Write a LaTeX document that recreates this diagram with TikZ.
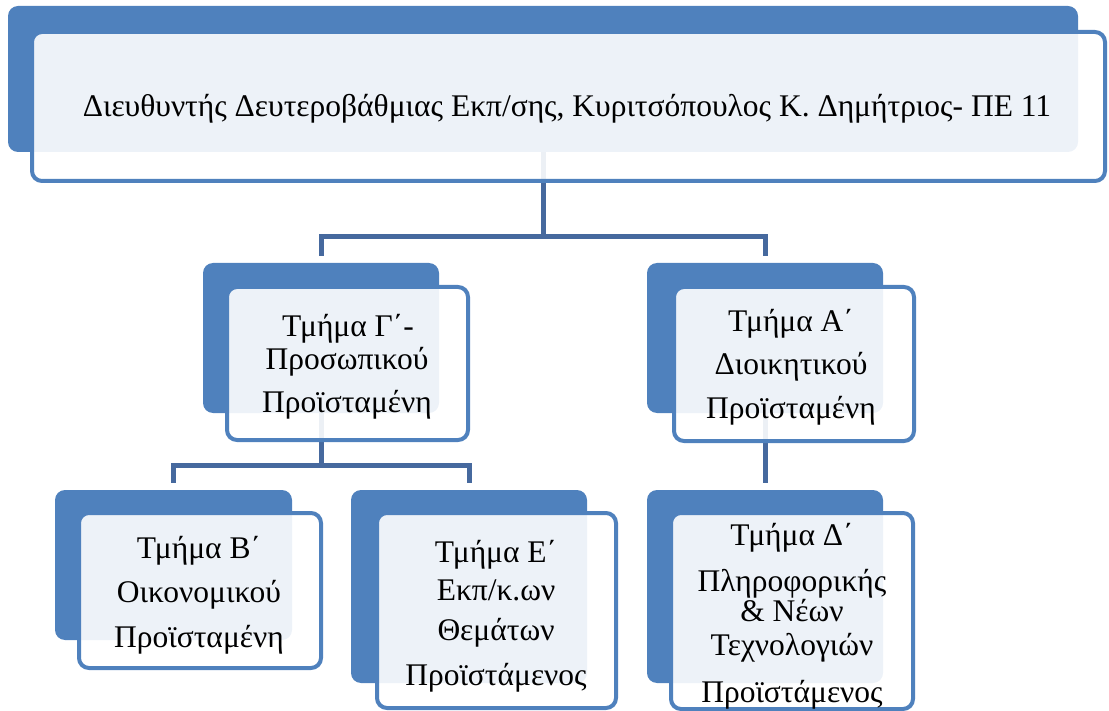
\documentclass[tikz,border=0pt]{standalone}
\usepackage{fontspec}
\setmainfont{Liberation Serif}
\usetikzlibrary{calc}
\pgfdeclarelayer{bg}
\pgfsetlayers{bg,main}
\definecolor{boxblue}{HTML}{4F81BD}
\definecolor{linkblue}{HTML}{46699E}
\tikzset{
  backbox/.style={fill=boxblue, draw=none, rounded corners=10pt, inner sep=0pt, outer sep=0pt},
  frontbox/.style={fill=white, fill opacity=0.9, draw=boxblue, draw opacity=1, line width=4pt, rounded corners=10pt, inner sep=0pt, outer sep=0pt},
  lbl/.style={anchor=base, inner sep=0pt, font=\fontsize{31.5}{34}\selectfont, text=black},
  conn/.style={draw=linkblue, line width=5pt}
}
\begin{document}
\begin{tikzpicture}[x=1pt,y=-1pt]
\useasboundingbox (0,0) rectangle (1109,711);
% top
\node[backbox, minimum width=1070pt, minimum height=146pt] (tB) at (543,79) {};
\node[frontbox, minimum width=1073pt, minimum height=149pt] (tF) at (568.5,106.5) {};
\node[lbl] (tT) at (567,117) {Διευθυντής Δευτεροβάθμιας Εκπ/σης, Κυριτσόπουλος Κ. Δημήτριος- ΠΕ 11};
% Gamma
\node[backbox, minimum width=236pt, minimum height=150pt] (gB) at (321,338) {};
\node[frontbox, minimum width=241pt, minimum height=153pt] (gF) at (347.5,363.5) {};
\node[lbl] (g1) at (348,337) {Τμήμα Γ΄-};
\node[lbl] (g2) at (347,370) {Προσωπικού};
\node[lbl] (g3) at (347,413) {Προϊσταμένη};
% Alpha
\node[backbox, minimum width=236pt, minimum height=150pt] (aB) at (765,338) {};
\node[frontbox, minimum width=240pt, minimum height=154pt] (aF) at (794,364) {};
\node[lbl] (a1) at (791,332) {Τμήμα Α΄};
\node[lbl] (a2) at (791,375) {Διοικητικού};
\node[lbl] (a3) at (791,418) {Προϊσταμένη};
% Beta
\node[backbox, minimum width=237pt, minimum height=150pt] (bB) at (173.5,565) {};
\node[frontbox, minimum width=242pt, minimum height=155pt] (bF) at (200,590.5) {};
\node[lbl] (b1) at (199,558) {Τμήμα Β΄};
\node[lbl] (b2) at (199,602) {Οικονομικού};
\node[lbl] (b3) at (199,647) {Προϊσταμένη};
% Epsilon
\node[backbox, minimum width=236pt, minimum height=193pt] (eB) at (469,586.5) {};
\node[frontbox, minimum width=239pt, minimum height=195pt] (eF) at (496.5,610.5) {};
\node[lbl] (e1) at (496,562) {Τμήμα Ε΄};
\node[lbl] (e2) at (496,600) {Εκπ/κ.ων};
\node[lbl] (e3) at (496,640) {Θεμάτων};
\node[lbl] (e4) at (496,685) {Προϊστάμενος};
% Delta
\node[backbox, minimum width=236pt, minimum height=193pt] (dB) at (765,586.5) {};
\node[frontbox, minimum width=242pt, minimum height=196pt] (dF) at (792,611) {};
\node[lbl] (d1) at (792,545) {Τμήμα Δ΄};
\node[lbl] (d2) at (792,591) {Πληροφορικής};
\node[lbl] (d3) at (792,621) {\& Νέων};
\node[lbl] (d4) at (792,655) {Τεχνολογιών};
\node[lbl] (d5) at (792,702) {Προϊστάμενος};
% connectors
\begin{pgfonlayer}{bg}
\coordinate (j1) at (543,237);
\coordinate (j2) at (321,465);
\draw[conn] (tB.south) -- (j1);
\draw[conn] (j1) -| ([yshift=7pt]gB.north);
\draw[conn] (j1) -| ([yshift=7pt]aB.north);
\draw[conn] (gB.south) -- (j2);
\draw[conn] (j2) -| ([yshift=7pt]bB.north);
\draw[conn] (j2) -| ([yshift=7pt]eB.north);
\draw[conn] (aB.south) -- ([yshift=7pt]dB.north);
\end{pgfonlayer}
\end{tikzpicture}
\end{document}
